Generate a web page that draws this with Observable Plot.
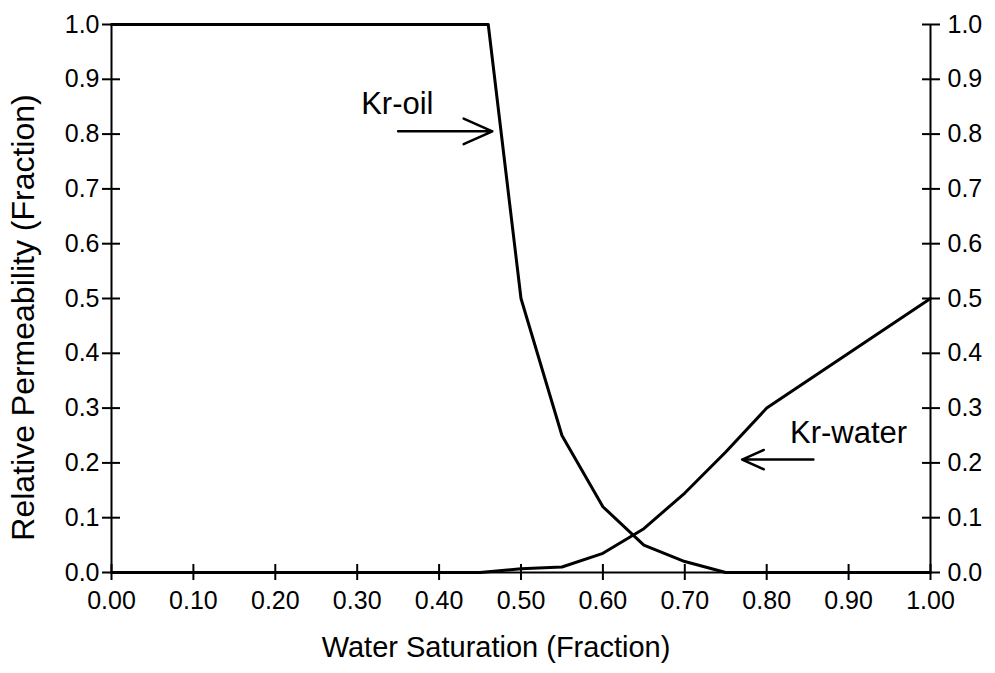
<!DOCTYPE html>
<html>
<head>
<meta charset="utf-8">
<script src="https://cdn.jsdelivr.net/npm/d3@7"></script>
<script src="https://cdn.jsdelivr.net/npm/@observablehq/plot@0.6"></script>
<style>
  html, body { margin: 0; padding: 0; background: #fff; }
  #chart { width: 995px; height: 673px; }
</style>
</head>
<body>
<div id="chart"></div>
<script>
// Water saturation and Kr-oil
const swOil = [0, 0.46, 0.50, 0.55, 0.60, 0.65, 0.70, 0.75, 1.00];
const krOil = [1, 1, 0.50, 0.25, 0.12, 0.05, 0.02, 0, 0];
// Water saturation and Kr-water
const swWater = [0, 0.45, 0.50, 0.55, 0.60, 0.65, 0.70, 0.75, 0.80, 0.90, 1.00];
const krWater = [0, 0, 0.007, 0.01, 0.035, 0.08, 0.145, 0.22, 0.30, 0.40, 0.50];
// tick values
const xTicks = [0, 0.1, 0.2, 0.3, 0.4, 0.5, 0.6, 0.7, 0.8, 0.9, 1.0];
const yTicks = [0, 0.1, 0.2, 0.3, 0.4, 0.5, 0.6, 0.7, 0.8, 0.9, 1.0];
// annotations
const labels = ["Kr-oil", "Kr-water"];
const labelX = [0.349, 0.90];
const labelY = [0.855, 0.255];
const arrowX1 = [0.350, 0.857];
const arrowX2 = [0.465, 0.770];
const arrowY = [0.805, 0.206];
const xTitle = "Water Saturation (Fraction)";
const yTitle = "Relative Permeability (Fraction)";

const oil = swOil.map((x, i) => ({x, y: krOil[i]}));
const water = swWater.map((x, i) => ({x, y: krWater[i]}));
const notes = labels.map((t, i) => ({t, x: labelX[i], y: labelY[i]}));
const arrows = arrowX1.map((x1, i) => ({x1, x2: arrowX2[i], y: arrowY[i]}));

const font = "'Liberation Sans', Arial, Helvetica, sans-serif";

const chart = Plot.plot({
  width: 995,
  height: 673,
  marginLeft: 111,
  marginRight: 65,
  marginTop: 24,
  marginBottom: 101,
  style: {fontFamily: font, color: "black", background: "white", overflow: "visible"},
  x: {domain: [0, 1]},
  y: {domain: [0, 1]},
  marks: [
    Plot.ruleX([0, 1], {stroke: "black", strokeWidth: 2}),
    Plot.ruleY([0], {stroke: "black", strokeWidth: 2}),
    Plot.axisX(xTicks, {anchor: "bottom", tickSize: 8, tickPadding: 11, tickFormat: d3.format(".2f"), fontSize: 25, strokeWidth: 2, label: null}),
    Plot.axisX(xTicks, {anchor: "bottom", tickSize: 8, dy: -8, strokeWidth: 2, fill: "none", label: null}),
    Plot.axisY(yTicks, {anchor: "left", tickSize: 9, tickPadding: 3, tickFormat: d3.format(".1f"), fontSize: 25, strokeWidth: 2, label: null}),
    Plot.axisY(yTicks, {anchor: "left", tickSize: 9, dx: 9, strokeWidth: 2, fill: "none", label: null}),
    Plot.axisY(yTicks, {anchor: "right", tickSize: 9, tickPadding: 8, tickFormat: d3.format(".1f"), fontSize: 25, strokeWidth: 2, label: null}),
    Plot.axisY(yTicks, {anchor: "right", tickSize: 9, dx: -9, strokeWidth: 2, fill: "none", label: null}),
    Plot.line(oil, {x: "x", y: "y", stroke: "black", strokeWidth: 3}),
    Plot.line(water, {x: "x", y: "y", stroke: "black", strokeWidth: 3}),
    Plot.text(notes, {x: "x", y: "y", text: "t", fontSize: 31, fill: "black"}),
    Plot.arrow(arrows, {x1: "x1", x2: "x2", y1: "y", y2: "y", stroke: "black", strokeWidth: 2.5, headLength: 20, headAngle: 48}),
    Plot.text([xTitle], {text: d => d, frameAnchor: "bottom", textAnchor: "middle", lineAnchor: "middle", dy: 75, dx: -25, fontSize: 29, fill: "black"}),
    Plot.text([yTitle], {text: d => d, frameAnchor: "left", textAnchor: "middle", lineAnchor: "middle", dx: -88, dy: 19, rotate: -90, fontSize: 32, fill: "black"})
  ]
});
document.getElementById("chart").appendChild(chart);
</script>
</body>
</html>
